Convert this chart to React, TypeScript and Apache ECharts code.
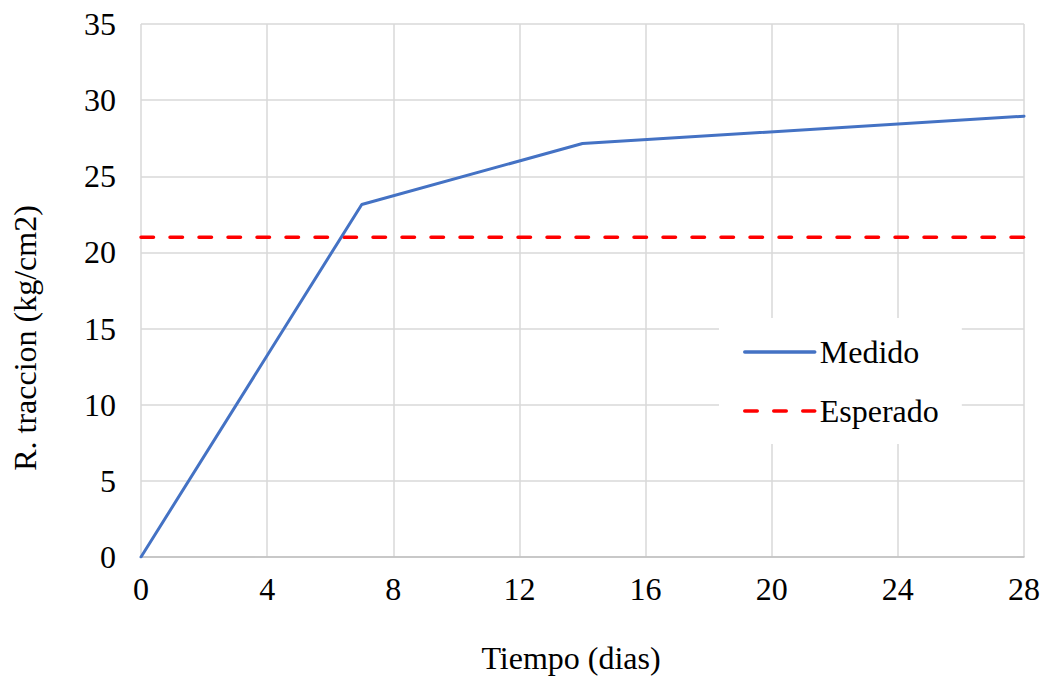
import React, { useEffect, useRef } from "react";
import * as echarts from "echarts";

const medidoDays = [0, 7, 14, 28];
const medidoValues = [0, 23.15, 27.15, 28.95];
const esperadoDays = [0, 28];
const esperadoValues = [21, 21];
const seriesNames = ["Medido", "Esperado"];
const xTitle = "Tiempo (dias)";
const yTitle = "R. traccion (kg/cm2)";

const FONT = "Liberation Serif";

export default function App() {
  const ref = useRef<HTMLDivElement>(null);
  useEffect(() => {
    const chart = echarts.init(ref.current!, null, { renderer: "svg" });
    chart.setOption({
      animation: false,
      backgroundColor: "#ffffff",
      textStyle: { fontFamily: FONT },
      grid: { left: 141, right: 20, top: 24, bottom: 120, containLabel: false },
      xAxis: {
        type: "value",
        min: 0,
        max: 28,
        interval: 4,
        axisLine: { show: true, lineStyle: { color: "#bfbfbf", width: 1.5 } },
        axisTick: { show: false },
        axisLabel: { fontFamily: FONT, fontSize: 32, color: "#000", margin: 16 },
        splitLine: { show: true, lineStyle: { color: "#d9d9d9", width: 1.5 } },
      },
      yAxis: {
        type: "value",
        min: 0,
        max: 35,
        interval: 5,
        axisLine: { show: false },
        axisTick: { show: false },
        axisLabel: { fontFamily: FONT, fontSize: 32, color: "#000", margin: 25 },
        splitLine: { show: true, lineStyle: { color: "#d9d9d9", width: 1.5 } },
      },
      legend: {
        orient: "vertical",
        left: 719,
        top: 318,
        backgroundColor: "#ffffff",
        padding: [18, 23, 17, 24],
        itemWidth: 70,
        itemHeight: 14,
        itemGap: 27,
        itemStyle: { opacity: 0 },
        lineStyle: { width: 3.5 },
        textStyle: { fontFamily: FONT, fontSize: 32, color: "#000", padding: [0, 0, 0, 0] },
        data: seriesNames,
      },
      graphic: [
        {
          type: "text",
          x: 571,
          y: 658,
          style: { text: xTitle, fontFamily: FONT, fontSize: 32, fill: "#000", align: "center", verticalAlign: "middle" },
        },
        {
          type: "text",
          x: 25,
          y: 338,
          rotation: Math.PI / 2,
          style: { text: yTitle, fontFamily: FONT, fontSize: 32, fill: "#000", align: "center", verticalAlign: "middle" },
        },
      ],
      series: [
        {
          name: seriesNames[0],
          type: "line",
          data: medidoDays.map((d, i) => [d, medidoValues[i]]),
          symbol: "none",
          lineStyle: { color: "#4472C4", width: 3, cap: "round" },
          itemStyle: { color: "#4472C4" },
          z: 3,
        },
        {
          name: seriesNames[1],
          type: "line",
          data: esperadoDays.map((d, i) => [d, esperadoValues[i]]),
          symbol: "none",
          lineStyle: { color: "#FF0000", width: 3.5, type: [12.5, 16.5], cap: "round" },
          itemStyle: { color: "#FF0000" },
          z: 2,
        },
      ],
    });
    return () => chart.dispose();
  }, []);
  return <div ref={ref} style={{ width: 1044, height: 677, position: "absolute", left: 0, top: 0 }} />;
}
